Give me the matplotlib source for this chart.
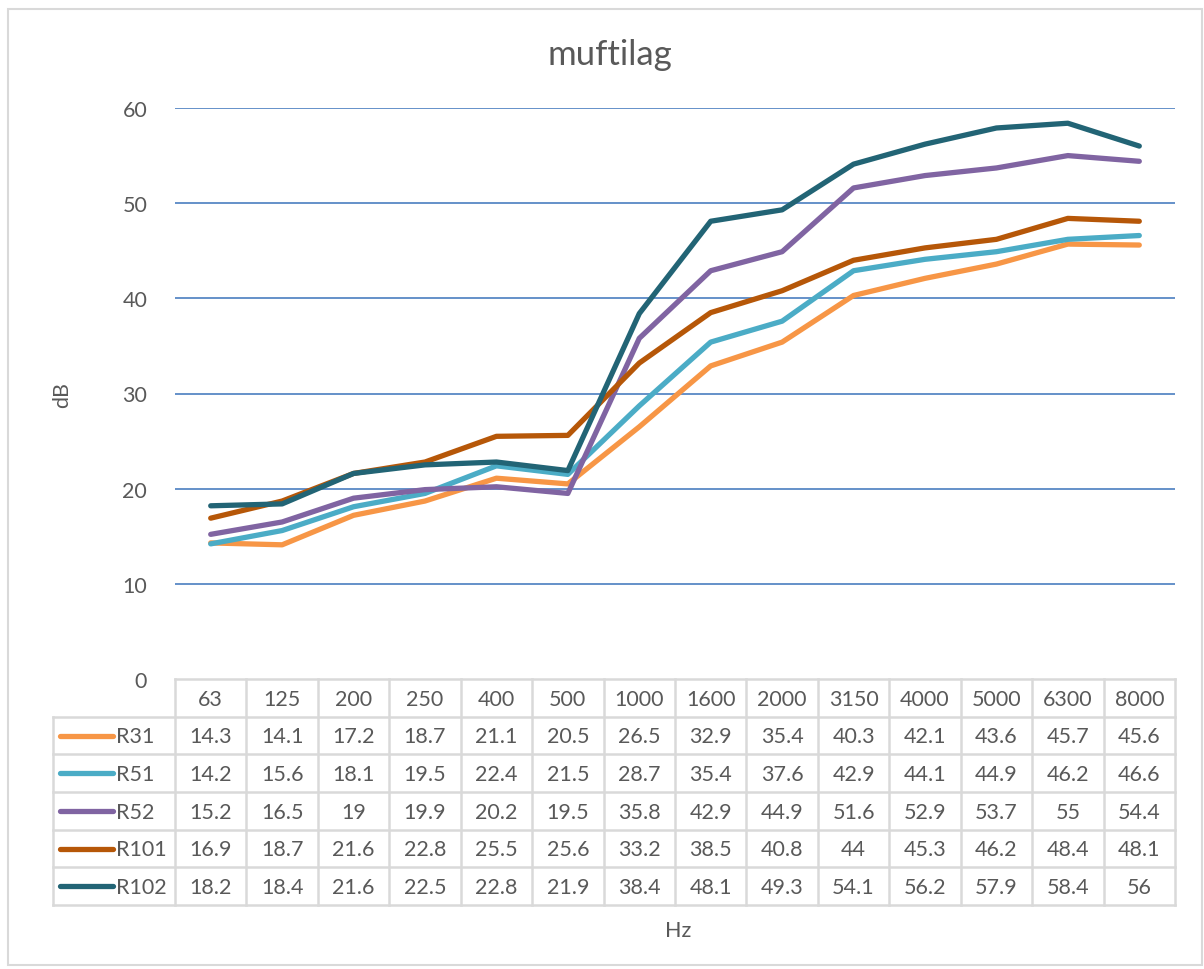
import matplotlib
matplotlib.use("Agg")
import matplotlib.pyplot as plt
from matplotlib.patches import Rectangle
from matplotlib.lines import Line2D

plt.rcParams['font.family'] = ['Lato', 'DejaVu Sans']

freqs = ["63", "125", "200", "250", "400", "500", "1000", "1600", "2000", "3150", "4000", "5000", "6300", "8000"]
series_names = ["R31", "R51", "R52", "R101", "R102"]
r31 = [14.3, 14.1, 17.2, 18.7, 21.1, 20.5, 26.5, 32.9, 35.4, 40.3, 42.1, 43.6, 45.7, 45.6]
r51 = [14.2, 15.6, 18.1, 19.5, 22.4, 21.5, 28.7, 35.4, 37.6, 42.9, 44.1, 44.9, 46.2, 46.6]
r52 = [15.2, 16.5, 19, 19.9, 20.2, 19.5, 35.8, 42.9, 44.9, 51.6, 52.9, 53.7, 55, 54.4]
r101 = [16.9, 18.7, 21.6, 22.8, 25.5, 25.6, 33.2, 38.5, 40.8, 44, 45.3, 46.2, 48.4, 48.1]
r102 = [18.2, 18.4, 21.6, 22.5, 22.8, 21.9, 38.4, 48.1, 49.3, 54.1, 56.2, 57.9, 58.4, 56]
series = [r31, r51, r52, r101, r102]
colors = ["#F79646", "#4BACC6", "#8064A2", "#B65708", "#226475"]
yticks = [0, 10, 20, 30, 40, 50, 60]

W, H = 1204, 970
fig = plt.figure(figsize=(W / 100, H / 100), dpi=100)
txt = "#595959"
grid_c = "#4A7EC0"
border_c = "#D9D9D9"
fs = 15.5

def fx(px):
    return px / W

def fy(py):
    return 1 - py / H

# chart outer border
fig.patches.append(Rectangle((fx(8), fy(966)), fx(1202) - fx(8), fy(10) - fy(966),
                             transform=fig.transFigure, fill=False, edgecolor=border_c, lw=1.5))

# main plot axes
pl, pr, pt, pb = 175, 1175, 109, 680
ax = fig.add_axes([fx(pl), fy(pb), fx(pr) - fx(pl), fy(pt) - fy(pb)])
n = len(freqs)
xs = list(range(n))
ax.set_xlim(-0.5, n - 0.5)
ax.set_ylim(0, 60)
for v in yticks[1:]:
    ax.axhline(v, color=grid_c, lw=1.2, zorder=1)
for s, c in zip(series, colors):
    ax.plot(xs, s, color=c, lw=3.8, solid_capstyle='round', solid_joinstyle='round', zorder=3)
for sp in ax.spines.values():
    sp.set_visible(False)
ax.set_xticks([])
ax.set_yticks(yticks)
ax.set_yticklabels([str(v) for v in yticks], fontsize=fs, color=txt)
ax.tick_params(axis='y', length=0, pad=20)
ax.patch.set_alpha(0)

# table axes
col_w = (pr - pl) / n
leg_left = 53
tb_top, tb_bot = 680, 906
tax = fig.add_axes([fx(leg_left), fy(tb_bot), fx(pr) - fx(leg_left), fy(tb_top) - fy(tb_bot)])
x_left = -0.5 - (pl - leg_left) / col_w
tax.set_xlim(x_left, n - 0.5)
nrows = len(series) + 1
tax.set_ylim(nrows, 0)
tax.axis('off')
lc = border_c
lw = 1.8
tax.add_line(Line2D([-0.5, n - 0.5], [0, 0], color=lc, lw=lw, clip_on=False))
for r in range(1, nrows + 1):
    tax.add_line(Line2D([x_left, n - 0.5], [r, r], color=lc, lw=lw, clip_on=False))
tax.add_line(Line2D([x_left, x_left], [1, nrows], color=lc, lw=lw, clip_on=False))
for i in range(n + 1):
    tax.add_line(Line2D([i - 0.5, i - 0.5], [0, nrows], color=lc, lw=lw, clip_on=False))
for i, f in enumerate(freqs):
    tax.text(i, 0.52, f, ha='center', va='center', fontsize=fs, color=txt)
for r, (name, s, c) in enumerate(zip(series_names, series, colors), start=1):
    y = r + 0.52
    tax.add_line(Line2D([x_left + 0.1, x_left + 0.84], [r + 0.5, r + 0.5], color=c, lw=3.8,
                        solid_capstyle='round', clip_on=False))
    tax.text(x_left + 0.88, y, name, ha='left', va='center', fontsize=fs, color=txt)
    for i, v in enumerate(s):
        tax.text(i, y, f"{v:g}", ha='center', va='center', fontsize=fs, color=txt)

# title and labels
fig.text(fx(610), fy(55), "muftilag", ha='center', va='center', fontsize=25, color=txt)
fig.text(fx(62), fy(395), "dB", ha='center', va='center', rotation=90, fontsize=fs, color=txt)
fig.text(fx(678), fy(931), "Hz", ha='center', va='center', fontsize=fs, color=txt)

fig.savefig("out.png", dpi=100)
